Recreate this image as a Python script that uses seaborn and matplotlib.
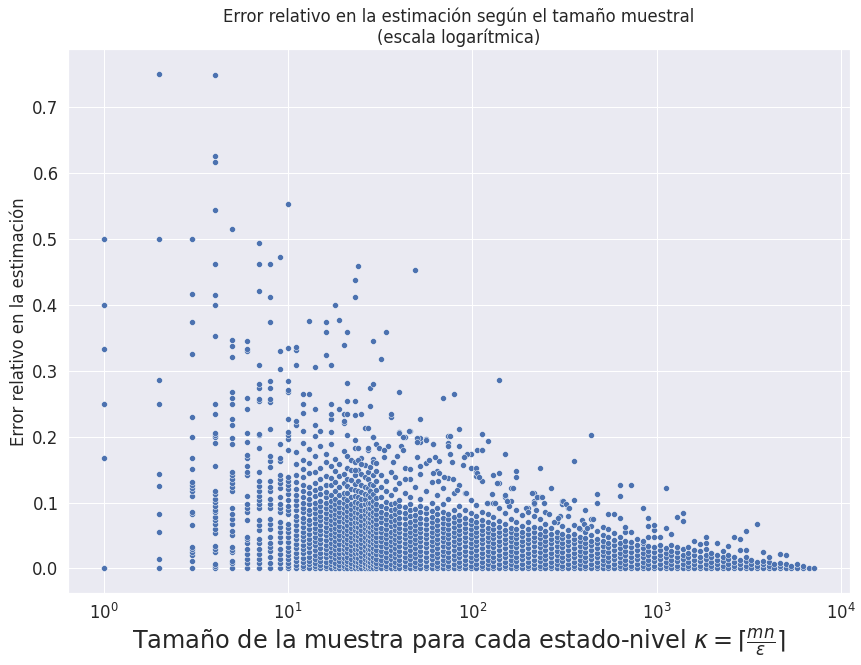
import pandas as pd
import seaborn as sns
import matplotlib.pyplot as plt


# --------------------------------------------------
# Datos (error en milesimas)
# --------------------------------------------------

k_small = [1, 2, 3, 4, 5, 6, 7, 8, 9, 10]
err_small = [
    [0, 167, 250, 333, 400, 500],
    [0, 15, 56, 83, 125, 143, 250, 286, 500, 750],
    [0, 12, 21, 25, 30, 33, 66, 82, 85, 110, 118, 122, 127, 131, 151, 167, 200, 229, 326, 374, 417, 500],
    [0, 3, 7, 25, 30, 34, 54, 60, 68, 74, 78, 85, 89, 95, 101, 106, 113, 118, 156, 191, 200, 203, 206,
     235, 250, 352, 400, 414, 461, 543, 617, 625, 748],
    [0, 9, 12, 25, 28, 33, 50, 57, 68, 75, 83, 92, 117, 123, 129, 135, 141, 147, 188, 198, 218, 226,
     250, 259, 267, 320, 338, 347, 515],
    [0, 9, 15, 22, 30, 38, 44, 48, 74, 85, 92, 98, 110, 141, 146, 156, 167, 172, 192, 206, 242, 259,
     330, 333, 345],
    [0, 9, 15, 22, 30, 38, 45, 59, 66, 74, 91, 97, 104, 110, 118, 125, 133, 147, 182, 203, 204, 254,
     257, 274, 280, 309, 421, 461, 493],
    [0, 9, 18, 26, 33, 39, 47, 60, 68, 75, 91, 98, 106, 117, 124, 132, 154, 163, 170, 212, 252, 257,
     273, 285, 374, 411, 462],
    [0, 9, 15, 22, 30, 40, 48, 56, 63, 71, 85, 91, 98, 109, 122, 129, 135, 141, 163, 168, 189, 303,
     330, 473],
    [0, 3, 9, 15, 21, 27, 33, 40, 48, 56, 62, 68, 83, 88, 95, 104, 113, 120, 127, 133, 138, 179, 197,
     203, 207, 227, 267, 270, 285, 335, 553],
]

k_mid = [11, 12, 13, 14, 15, 16, 17, 18, 19, 20, 21, 22, 23, 24, 25, 26, 27, 28, 29, 30]
err_mid = [
    [0, 5, 11, 17, 24, 31, 37, 44, 51, 58, 66, 73, 80, 88, 96, 104, 112, 121, 131, 142, 158, 176, 218, 224, 309, 332, 336],
    [0, 4, 10, 16, 23, 29, 36, 43, 49, 56, 63, 70, 77, 85, 92, 99, 108, 117, 126, 138, 151, 165, 190, 209, 236, 250, 265],
    [0, 6, 12, 18, 25, 32, 38, 45, 53, 60, 67, 74, 82, 89, 97, 105, 114, 124, 145, 160, 181, 265, 376],
    [0, 3, 9, 15, 21, 28, 35, 41, 48, 55, 62, 69, 76, 84, 91, 99, 110, 119, 129, 147, 170, 201, 218, 242, 306],
    [0, 5, 11, 18, 24, 31, 38, 45, 52, 59, 66, 73, 80, 87, 94, 102, 113, 122, 135, 152, 185, 208],
    [0, 4, 10, 17, 23, 30, 36, 43, 50, 57, 63, 70, 77, 84, 92, 100, 108, 116, 127, 140, 162, 174, 324, 358, 374],
    [0, 6, 12, 19, 25, 32, 39, 46, 53, 60, 67, 74, 81, 88, 95, 103, 111, 126, 137, 155, 188, 207, 227, 235, 250, 308],
    [0, 3, 9, 16, 22, 29, 35, 42, 49, 56, 62, 69, 76, 83, 90, 98, 106, 118, 131, 148, 166, 400],
    [0, 5, 11, 17, 24, 30, 37, 44, 51, 58, 65, 72, 79, 86, 93, 101, 112, 123, 140, 158, 242, 377],
    [0, 4, 10, 16, 23, 29, 36, 42, 49, 56, 63, 70, 77, 84, 91, 99, 107, 115, 130, 144, 178, 220, 223, 235, 339],
    [0, 6, 12, 18, 25, 31, 38, 45, 52, 59, 66, 73, 80, 87, 95, 104, 114, 125, 136, 153, 171, 202, 235, 254, 282, 358],
    [0, 3, 9, 15, 22, 28, 35, 42, 48, 55, 62, 69, 76, 83, 90, 98, 109, 121, 134, 149, 165],
    [0, 5, 11, 17, 24, 30, 37, 44, 51, 58, 64, 71, 78, 85, 93, 101, 110, 119, 128, 142, 161, 183, 232, 254, 412, 438],
    [0, 4, 10, 16, 23, 29, 36, 43, 49, 56, 63, 70, 77, 84, 91, 99, 108, 118, 132, 150, 458],
    [0, 6, 12, 19, 25, 32, 38, 45, 52, 59, 66, 73, 80, 88, 96, 105, 116, 127, 143, 168, 235],
    [0, 3, 9, 15, 21, 28, 34, 41, 48, 55, 61, 68, 75, 82, 89, 97, 106, 113, 124, 139, 157, 213],
    [0, 5, 11, 17, 23, 30, 37, 43, 50, 57, 64, 71, 78, 85, 92, 100, 111, 122, 135, 147, 179],
    [0, 4, 10, 16, 22, 29, 36, 42, 49, 56, 63, 70, 76, 83, 91, 99, 108, 117, 128, 154, 247, 274],
    [0, 6, 12, 18, 25, 31, 38, 45, 51, 58, 65, 72, 79, 86, 94, 103, 113, 126, 141, 166, 200, 279, 345],
    [0, 3, 9, 15, 22, 28, 35, 41, 48, 55, 62, 68, 75, 83, 90, 98, 107, 119, 132, 148, 188],
]

k_band = [32, 34, 36, 38, 40, 43, 46, 49, 52, 56, 60, 64, 69, 74, 79, 85, 91, 98, 105, 113,
          121, 130, 140, 150, 161, 173, 186, 200, 215, 231, 248, 266, 286, 307, 330, 355, 381,
          409, 440, 472, 507, 545, 585, 629, 675, 725, 779, 837, 899, 965, 1037, 1114, 1196,
          1285, 1380, 1482, 1592, 1710, 1836, 1972, 2118, 2275, 2443, 2624, 2818, 3027, 3251,
          3491, 3750, 4027, 4325, 4645, 4989, 5358, 5754, 6180, 6637, 7128]
err_band = [
    [0, 6, 13, 20, 27, 34, 41, 48, 55, 62, 70, 78, 86, 95, 108, 124, 141, 318],
    [0, 4, 11, 18, 25, 32, 39, 46, 53, 60, 67, 75, 83, 92, 101, 117, 133, 359],
    [0, 7, 14, 21, 28, 35, 42, 49, 56, 64, 72, 80, 89, 98, 112, 146, 230, 235],
    [0, 3, 10, 17, 24, 31, 38, 45, 52, 59, 66, 74, 82, 90, 99, 121, 138],
    [0, 6, 13, 20, 27, 34, 41, 48, 55, 62, 69, 77, 85, 94, 104, 129, 207, 268],
    [0, 4, 11, 18, 25, 32, 39, 46, 53, 60, 68, 76, 84, 93, 115, 152, 200],
    [0, 7, 14, 21, 28, 35, 42, 49, 56, 63, 71, 79, 88, 97, 109, 136, 209],
    [0, 3, 10, 17, 24, 31, 38, 45, 52, 59, 66, 73, 81, 90, 123, 453],
    [0, 6, 13, 20, 27, 34, 41, 48, 55, 62, 69, 77, 86, 95, 105, 143, 192, 198, 227],
    [0, 4, 11, 18, 25, 32, 39, 46, 53, 60, 67, 75, 84, 92, 118, 160, 196],
    [0, 7, 14, 21, 28, 35, 42, 49, 56, 63, 70, 78, 87, 100, 131],
    [0, 3, 10, 17, 24, 31, 38, 45, 52, 59, 66, 74, 82, 91, 112, 148],
    [0, 6, 13, 20, 27, 34, 41, 48, 55, 62, 69, 77, 85, 97, 122, 259],
    [0, 4, 11, 18, 25, 32, 39, 46, 53, 60, 67, 75, 83, 106, 137, 201],
    [0, 7, 14, 21, 28, 35, 42, 49, 56, 63, 70, 78, 89, 115, 264],
    [0, 3, 10, 17, 24, 31, 38, 45, 52, 59, 66, 73, 81, 94, 126, 186, 211],
    [0, 6, 13, 20, 27, 34, 41, 48, 55, 62, 69, 77, 88, 115, 170],
    [0, 4, 11, 18, 25, 32, 39, 46, 53, 60, 67, 74, 84, 104, 153, 174],
    [0, 7, 14, 21, 28, 35, 42, 49, 56, 63, 70, 79, 96, 140, 146, 152],
    [0, 3, 10, 17, 24, 31, 38, 45, 52, 59, 66, 74, 86, 132, 179, 204],
    [0, 6, 13, 20, 27, 34, 41, 48, 55, 62, 70, 82, 100, 194],
    [0, 4, 11, 18, 25, 32, 39, 46, 53, 60, 67, 78, 100, 141],
    [0, 7, 14, 21, 28, 35, 42, 49, 56, 63, 72, 91, 130, 145, 286],
    [0, 3, 10, 17, 24, 31, 38, 45, 52, 59, 67, 84, 109, 173],
    [0, 6, 13, 20, 27, 34, 41, 48, 55, 62, 75, 103, 122],
    [0, 4, 11, 18, 25, 32, 39, 46, 53, 60, 70, 89, 138, 148],
    [0, 7, 14, 21, 28, 35, 42, 49, 56, 64, 81],
    [0, 3, 10, 17, 24, 31, 38, 45, 52, 60, 71, 91],
    [0, 6, 13, 20, 27, 34, 41, 48, 55, 63, 79, 97, 103, 115],
    [0, 4, 11, 18, 25, 32, 39, 46, 53, 61, 75, 109, 153],
    [0, 7, 14, 21, 28, 35, 42, 49, 57, 68, 86],
    [0, 3, 10, 17, 24, 31, 38, 45, 52, 62, 122],
    [0, 6, 13, 20, 27, 34, 41, 48, 56, 70],
    [0, 4, 11, 18, 25, 32, 39, 46, 53, 65, 97, 103],
    [0, 7, 14, 21, 28, 35, 42, 49, 58, 92],
    [0, 3, 10, 17, 24, 31, 38, 45, 53, 66, 104, 163],
    [0, 6, 13, 20, 27, 34, 41, 48, 60],
    [0, 4, 11, 18, 25, 32, 39, 46, 56, 88],
    [0, 7, 14, 21, 28, 35, 42, 50, 64, 75, 203],
    [0, 3, 10, 17, 24, 31, 38, 45, 57, 100, 113],
    [0, 6, 13, 20, 27, 34, 41, 50, 63],
    [0, 4, 11, 18, 25, 32, 39, 47, 60, 83],
    [0, 7, 14, 21, 28, 35, 43, 54, 83],
    [0, 3, 10, 17, 24, 31, 38, 48, 77, 110, 127],
    [0, 6, 13, 20, 27, 34, 42, 56, 63],
    [0, 4, 11, 18, 25, 32, 40, 56, 127],
    [0, 7, 14, 21, 28, 35, 45],
    [0, 3, 10, 17, 24, 31, 39, 42, 91],
    [0, 6, 13, 20, 27, 34, 47, 65, 77],
    [0, 4, 11, 18, 25, 32, 47, 59, 66],
    [0, 7, 14, 21, 28, 36, 47],
    [0, 3, 10, 17, 24, 31, 62, 122],
    [0, 6, 13, 20, 27, 36, 53],
    [0, 4, 11, 18, 25, 33, 78],
    [0, 7, 14, 21, 29, 72, 84],
    [0, 3, 10, 17, 24, 33],
    [0, 6, 13, 20, 28, 41],
    [0, 4, 11, 18, 26, 37],
    [0, 7, 14, 21, 30, 39, 48],
    [0, 3, 10, 17, 24],
    [0, 6, 13, 20, 39],
    [0, 4, 11, 18, 26],
    [0, 7, 14, 21, 34],
    [0, 3, 10, 17, 48],
    [0, 6, 13, 28, 44],
    [0, 4, 11, 17, 28, 57],
    [0, 7, 13],
    [0, 3, 10, 68],
    [0, 6, 12, 25],
    [0, 4, 10, 18],
    [0, 7],
    [0, 3, 9, 22],
    [0, 6, 21],
    [0, 4],
    [0, 6],
    [0, 4],
    [0],
    [0],
]

# puntos dispersos por encima de la banda densa
k_extra = [27, 29, 40, 42, 45, 50, 50, 56, 61, 74, 76, 23, 24, 24, 23, 25,
           27, 31, 35, 33, 33, 29, 30, 37, 39, 41, 42, 46, 43, 50, 52, 58, 61, 66, 63,
           61, 66, 65, 70, 74, 76, 77, 78, 82, 93, 90, 89, 106, 112, 106, 109, 135, 127,
           151, 158, 165, 195, 209, 216, 223, 237, 243, 275, 310, 320, 335, 298, 328,
           392, 400, 378, 450, 420, 92, 120, 132, 154, 200, 220, 260, 290]
err_extra = [213, 200, 206, 200, 209, 198, 192, 195, 188, 191, 201, 195, 183, 165, 150, 159,
             183, 183, 185, 179, 169, 162, 160, 162, 171, 185, 180, 151, 136, 169, 156, 165, 188, 163, 169,
             145, 145, 133, 139, 185, 174, 162, 136, 119, 174, 169, 157, 180, 179, 145, 139, 130, 113,
             111, 94, 122, 91, 115, 100, 109, 109, 100, 71, 103, 97, 92, 80, 79,
             74, 67, 62, 75, 61, 115, 100, 100, 103, 85, 88, 82, 76]


# --------------------------------------------------
# DataFrame
# --------------------------------------------------

rows = []
for ks, errs in [(k_small, err_small), (k_mid, err_mid), (k_band, err_band)]:
    for k, ys in zip(ks, errs):
        for y in ys:
            rows.append({"kappa": k, "error": y / 1000})

for k, y in zip(k_extra, err_extra):
    rows.append({"kappa": k, "error": y / 1000})

df = pd.DataFrame(rows)


# --------------------------------------------------
# Grafico
# --------------------------------------------------

sns.set_theme(style="darkgrid", font_scale=1.5)

fig = plt.figure(figsize=(861 / 72, 665 / 72), dpi=72)
ax = fig.add_axes([0.079, 0.108, 0.908, 0.818])

sns.scatterplot(data=df, x="kappa", y="error", ax=ax, color="#4c72b0")
ax.set_xscale("log")

ax.set_title("Error relativo en la estimación según el tamaño muestral\n(escala logarítmica)",
             fontsize=16.5)
ax.set_xlabel(r"Tamaño de la muestra para cada estado-nivel $\kappa = \lceil \frac{mn}{\varepsilon} \rceil$",
              fontsize=24)
ax.set_ylabel("Error relativo en la estimación", fontsize=16.5)

fig.savefig("out.png", dpi=72)
